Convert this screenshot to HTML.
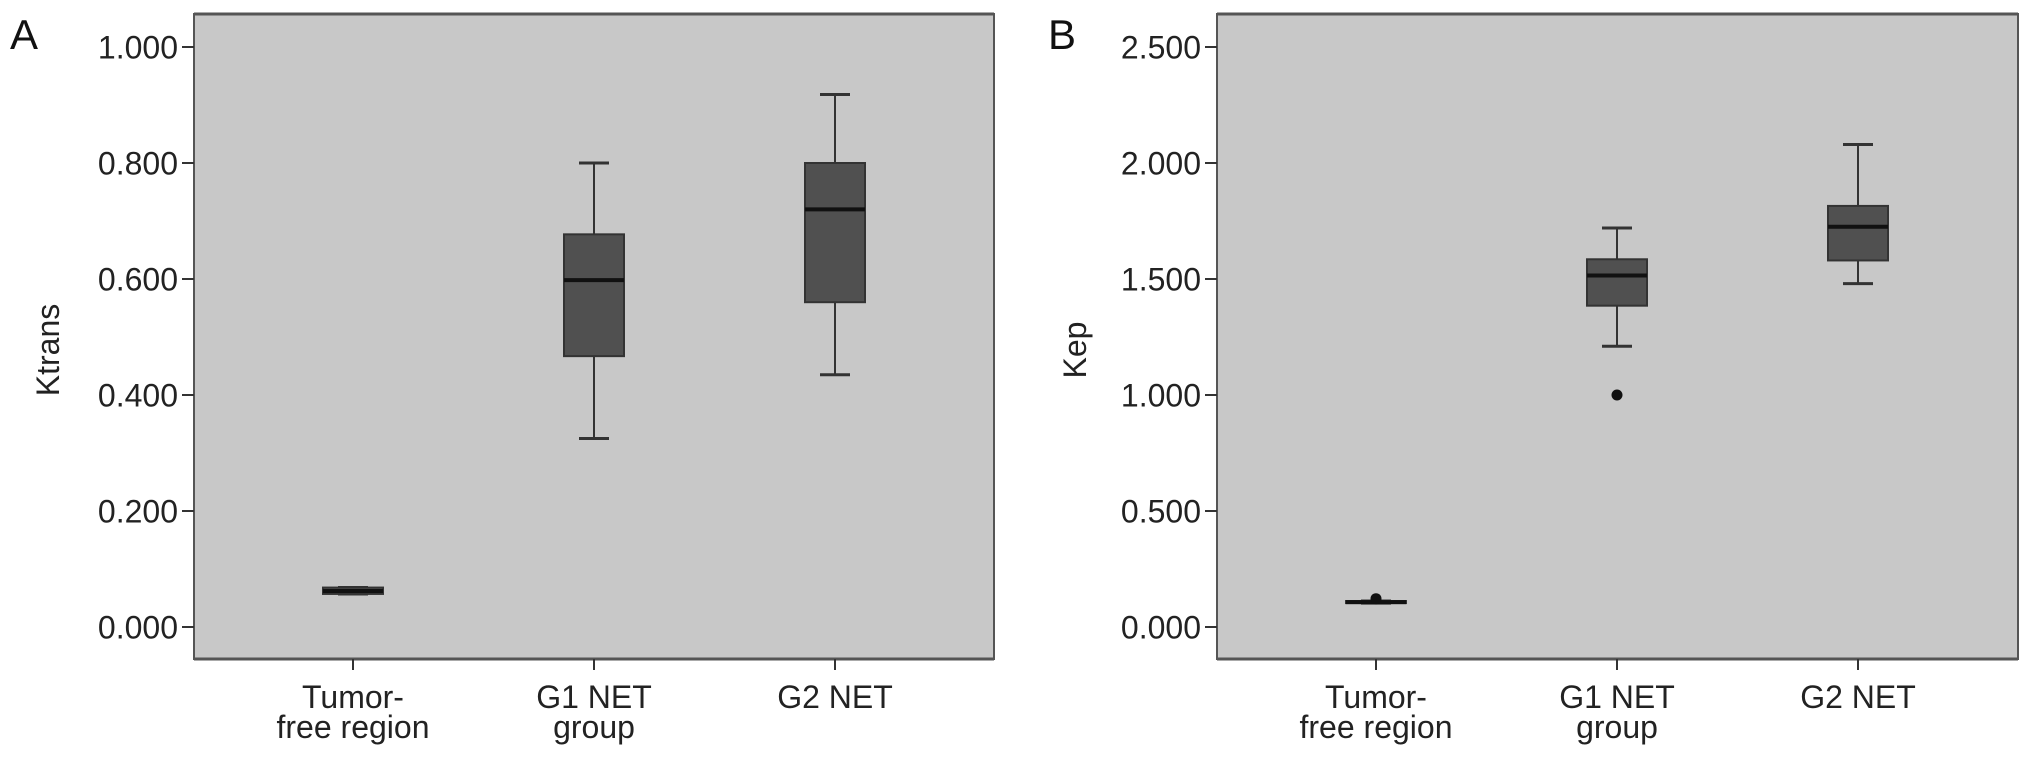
<!DOCTYPE html>
<html><head><meta charset="utf-8"><style>
html,body{margin:0;padding:0;background:#fff;}
svg{display:block;font-family:"Liberation Sans",Arial,sans-serif;}
</style></head><body>
<svg id="chart" width="2032" height="759" viewBox="0 0 2032 759" xmlns="http://www.w3.org/2000/svg"></svg>
<script>
const categories = ["Tumor-|free region", "G1 NET|group", "G2 NET"];
// Panel A: Ktrans
const aWhiskLo = [0.057, 0.325, 0.435];
const aQ1      = [0.057, 0.467, 0.560];
const aMedian  = [0.062, 0.598, 0.720];
const aQ3      = [0.068, 0.677, 0.800];
const aWhiskHi = [0.068, 0.800, 0.918];
const aOutliers = [];
const aTicks = [0, 0.2, 0.4, 0.6, 0.8, 1.0];
const aTickLabels = ["0.000","0.200","0.400","0.600","0.800","1.000"];
// Panel B: Kep
const bWhiskLo = [0.103, 1.21, 1.48];
const bQ1      = [0.103, 1.385, 1.58];
const bMedian  = [0.107, 1.515, 1.725];
const bQ3      = [0.112, 1.585, 1.815];
const bWhiskHi = [0.112, 1.72, 2.08];
const bOutliers = [[0, 0.122], [1, 1.0]];
const bTicks = [0, 0.5, 1.0, 1.5, 2.0, 2.5];
const bTickLabels = ["0.000","0.500","1.000","1.500","2.000","2.500"];

const svg = document.getElementById('chart');
const NS = 'http://www.w3.org/2000/svg';
function mk(tag, attrs, parent){
  const e = document.createElementNS(NS, tag);
  for (const k in attrs) e.setAttribute(k, attrs[k]);
  (parent||svg).appendChild(e);
  return e;
}

function panel(cfg){
  const g = mk('g', {});
  
  
  const L = cfg.left, R = cfg.right, T = 14, B = 659;
  const y0 = 627, y1 = 47;
  const yScale = v => y0 - (v - cfg.ticks[0]) / (cfg.ticks[cfg.ticks.length-1] - cfg.ticks[0]) * (y0 - y1);
  const xScale = i => L + 159 + i * 241;

  const bg = mk('rect', {x:L, y:T, width:R-L, height:B-T, fill:'#c8c8c8', stroke:'#555', 'stroke-width':2}, g);
  
  
  mk('line', {x1:L, x2:R, y1:T, y2:T, stroke:'#555', 'stroke-width':3}, g);
  mk('line', {x1:L, x2:R, y1:B, y2:B, stroke:'#555', 'stroke-width':3}, g);

  const lt = mk('text', {x:cfg.letterX, y:49, 'font-size':42, fill:'#111'}, g);
  lt.textContent = cfg.letter;
  
  

  cfg.ticks.forEach((t, i) => {
    const y = yScale(t);
    mk('line', {x1:L-12, x2:L, y1:y, y2:y, stroke:'#333', 'stroke-width':2}, g);
    const tx = mk('text', {x:L-16, y:y+11.5, 'font-size':32, 'text-anchor':'end', fill:'#222'}, g);
    tx.textContent = cfg.tickLabels[i];
    
    
  });

  const yt = mk('text', {x:0, y:0, 'font-size':32, 'text-anchor':'middle', fill:'#222', transform:`translate(${cfg.titleX},${cfg.titleY}) rotate(-90)`}, g);
  yt.textContent = cfg.title;
  
  

  categories.forEach((c, i) => {
    const x = xScale(i);
    mk('line', {x1:x, x2:x, y1:B, y2:B+11, stroke:'#333', 'stroke-width':2}, g);
    c.split('|').forEach((ln, j) => {
      const t = mk('text', {x:x, y:708 + j*30, 'font-size':32, 'text-anchor':'middle', fill:'#222'}, g);
      t.textContent = ln;
      
      
    });

    const bx = mk('g', {}, g);
    
    
    const lo = yScale(cfg.wlo[i]), hi = yScale(cfg.whi[i]);
    const q1 = yScale(cfg.q1[i]), q3 = yScale(cfg.q3[i]), md = yScale(cfg.med[i]);
    mk('line', {x1:x, x2:x, y1:hi, y2:q3, stroke:'#333', 'stroke-width':2}, bx);
    mk('line', {x1:x, x2:x, y1:q1, y2:lo, stroke:'#333', 'stroke-width':2}, bx);
    mk('line', {x1:x-15, x2:x+15, y1:hi, y2:hi, stroke:'#333', 'stroke-width':3}, bx);
    mk('line', {x1:x-15, x2:x+15, y1:lo, y2:lo, stroke:'#333', 'stroke-width':3}, bx);
    mk('rect', {x:x-30, y:q3, width:60, height:Math.max(q1-q3, 1), fill:'#505050', stroke:'#333', 'stroke-width':2}, bx);
    mk('line', {x1:x-30, x2:x+30, y1:md, y2:md, stroke:'#111', 'stroke-width':4}, bx);
  });

  cfg.outliers.forEach(o => {
    const c = mk('circle', {cx:xScale(o[0]), cy:yScale(o[1]), r:5.5, fill:'#111'}, g);
    
    
  });
}

panel({name:'panel-a-ktrans', left:194, right:994, letter:'A', letterX:10, title:'Ktrans',
  titleX:59, titleY:350, ticks:aTicks, tickLabels:aTickLabels,
  wlo:aWhiskLo, q1:aQ1, med:aMedian, q3:aQ3, whi:aWhiskHi, outliers:aOutliers});
panel({name:'panel-b-kep', left:1217, right:2018, letter:'B', letterX:1048, title:'Kep',
  titleX:1086, titleY:350, ticks:bTicks, tickLabels:bTickLabels,
  wlo:bWhiskLo, q1:bQ1, med:bMedian, q3:bQ3, whi:bWhiskHi, outliers:bOutliers});
</script>
</body></html>
